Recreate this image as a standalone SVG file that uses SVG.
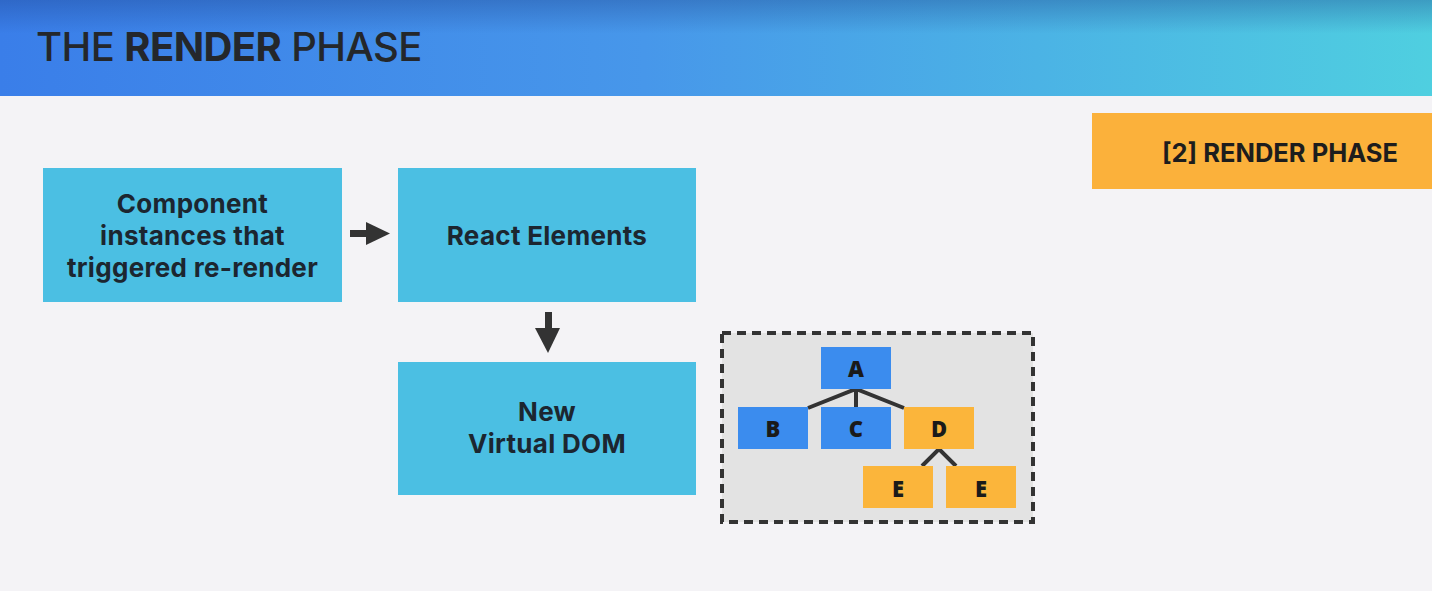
<svg xmlns="http://www.w3.org/2000/svg" width="1432" height="591" viewBox="0 0 1432 591">
<defs>
<linearGradient id="hdr" x1="0" y1="0" x2="1" y2="0">
<stop offset="0" stop-color="#3a7ee9"/>
<stop offset="0.45" stop-color="#4797ea"/>
<stop offset="1" stop-color="#4fcfe0"/>
</linearGradient>
<linearGradient id="hdrshade" x1="0" y1="0" x2="0" y2="1">
<stop offset="0" stop-color="#1a3f8a" stop-opacity="0.35"/>
<stop offset="0.35" stop-color="#1a3f8a" stop-opacity="0"/>
</linearGradient>
<style>
.box{fill:#4bbfe3}
.lbl{font-family:Inter,"Liberation Sans",sans-serif;font-weight:700;font-size:26px;letter-spacing:0.3px;fill:#1c2630;text-anchor:middle}
.tn{font-family:"Open Sans","Noto Sans",sans-serif;font-weight:800;font-size:22px;fill:#1a1a1a;text-anchor:middle}
.blue{fill:#3b8cee}
.orng{fill:#fbb53b}
.edge{stroke:#333;stroke-width:4;fill:none}
.arr{fill:#333}
</style>
</defs>
<rect width="1432" height="591" fill="#f4f3f6"/>
<g id="header">
<rect width="1432" height="96" fill="url(#hdr)"/>
<rect width="1432" height="96" fill="url(#hdrshade)"/>
<text x="36" y="61" font-family="Inter,'Liberation Sans',sans-serif" font-weight="500" font-size="40" fill="#24272b" letter-spacing="-0.6">THE <tspan font-weight="700">RENDER</tspan> PHASE</text>
</g>
<g id="phase-label">
<rect x="1092" y="113" width="340" height="76" fill="#fbb13b"/>
<text x="1280" y="162" font-family="Inter,'Liberation Sans',sans-serif" font-weight="700" font-size="25.5" fill="#1d1d1d" text-anchor="middle">[2] RENDER PHASE</text>
</g>
<g id="component-instances">
<rect class="box" x="43" y="168" width="299" height="134"/>
<text class="lbl" x="192.5" y="213">Component</text>
<text class="lbl" x="192.5" y="245">instances that</text>
<text class="lbl" x="192.5" y="277">triggered re-render</text>
</g>
<g id="react-elements">
<rect class="box" x="398" y="168" width="298" height="134"/>
<text class="lbl" x="547" y="245">React Elements</text>
</g>
<g id="virtual-dom">
<rect class="box" x="398" y="362" width="298" height="133"/>
<text class="lbl" x="547" y="421">New</text>
<text class="lbl" x="547" y="453">Virtual DOM</text>
</g>
<g id="connectors">
<rect class="arr" x="350" y="230" width="18" height="7"/>
<polygon class="arr" points="366,222 390,233.5 366,245"/>
<rect class="arr" x="545" y="312" width="7" height="18"/>
<polygon class="arr" points="535,328 560,328 548,353"/>
</g>
<g id="tree">
<rect x="722" y="333" width="311" height="189" fill="#e3e3e3" stroke="#333" stroke-width="4" stroke-dasharray="9,6"/>
<g id="tree-edges">
<path class="edge" d="M808,408 L856,389 L904,408 M856,389 L856,407 M922,466 L939,449 L956,466"/>
</g>
<g id="node-a"><rect class="blue" x="821" y="347" width="70" height="42"/><text class="tn" x="856" y="377">A</text></g>
<g id="node-b"><rect class="blue" x="738" y="407" width="70" height="42"/><text class="tn" x="773" y="437">B</text></g>
<g id="node-c"><rect class="blue" x="821" y="407" width="70" height="42"/><text class="tn" x="856" y="437">C</text></g>
<g id="node-d"><rect class="orng" x="904" y="407" width="70" height="42"/><text class="tn" x="939" y="437">D</text></g>
<g id="node-e1"><rect class="orng" x="863" y="466" width="70" height="42"/><text class="tn" x="898" y="497">E</text></g>
<g id="node-e2"><rect class="orng" x="946" y="466" width="70" height="42"/><text class="tn" x="981" y="497">E</text></g>
</g>
</svg>
